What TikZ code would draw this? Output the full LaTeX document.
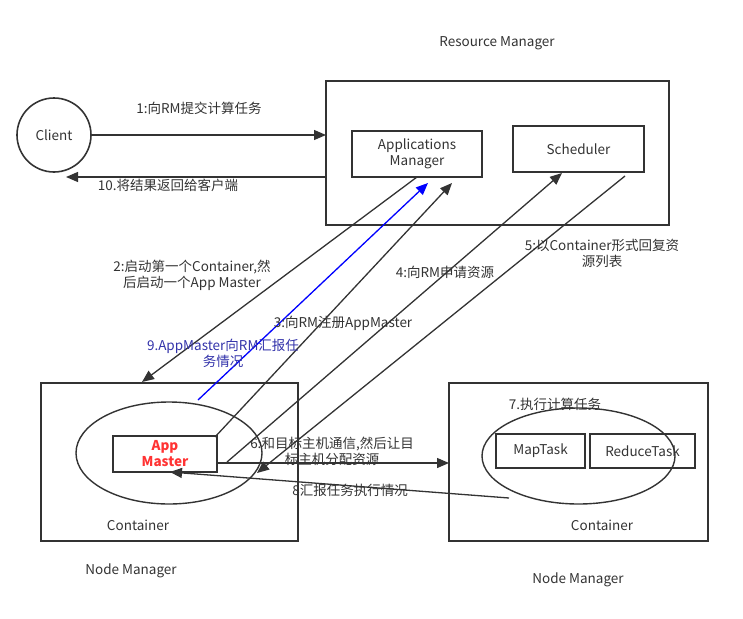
\documentclass[tikz,border=0pt]{standalone}
\usepackage{fontspec}
\setmainfont{Noto Sans CJK SC}
\usetikzlibrary{arrows.meta,shapes.geometric}
\definecolor{ink}{RGB}{51,51,51}
\definecolor{bluetxt}{RGB}{50,50,170}
\definecolor{amred}{RGB}{255,51,51}
\begin{document}
\begin{tikzpicture}[x=1pt,y=-1pt,
  font=\fontsize{13.5}{16}\selectfont,
  every node/.style={text=ink,outer sep=0pt,inner sep=0pt},
  box/.style={draw=ink,line width=1.5pt,rectangle},
  ell/.style={draw=ink,line width=1.4pt,ellipse},
  arr/.style={draw=ink,line width=1.3pt,-{Triangle[length=12pt,width=10pt]}},
  barr/.style={draw=blue,line width=1.3pt,-{Triangle[length=12pt,width=10pt]}},
  lbl/.style={align=center,font=\fontsize{13.5}{16}\selectfont}]
\useasboundingbox (0,0) rectangle (743,618);
% Resource Manager
\node[lbl] (rmlbl) at (497,43) {Resource Manager};
\node[box,minimum width=343pt,minimum height=144pt] (RM) at (497.5,153) {};
\node[box,minimum width=130pt,minimum height=46pt,align=center,font=\fontsize{13.5}{16}\selectfont] (AM) at (417,154) {Applications\\Manager};
\node[box,minimum width=131pt,minimum height=46pt] (SC) at (578.5,149) {Scheduler};
% Client
\node[draw=ink,line width=1.6pt,circle,minimum size=74pt] (CL) at (54,135) {Client};
% Left node manager
\node[box,minimum width=257pt,minimum height=158pt] (LNM) at (169.5,462) {};
\node[ell,minimum width=186pt,minimum height=102pt] (LE) at (169,453) {};
\node[box,minimum width=104pt,minimum height=36pt,align=center,text=amred,font=\fontsize{13.5}{16}\selectfont\bfseries] (APM) at (165,454) {App\\Master};
\node[lbl] (lct) at (138,525) {Container};
\node[lbl] (lnml) at (131,571) {Node Manager};
% Right node manager
\node[box,minimum width=259pt,minimum height=158pt] (RNM) at (578.5,462) {};
\node[ell,minimum width=193pt,minimum height=96pt] (RE) at (578.5,456) {};
\node[box,minimum width=89pt,minimum height=34pt] (MT) at (540.5,451) {MapTask};
\node[box,minimum width=105pt,minimum height=34pt] (RT) at (642.5,451) {ReduceTask};
\node[lbl] (l7) at (555,404) {7.执行计算任务};
\node[lbl] (rct) at (602,525) {Container};
\node[lbl] (rnml) at (578,580) {Node Manager};
% coordinates
\coordinate (c10) at (66,177);
\coordinate (c2e) at (142,382);
\coordinate (c9s) at (198,400);
\coordinate (c9e) at (428,183);
\coordinate (c3s) at (215,437);
\coordinate (c3e) at (452,183);
\coordinate (c4s) at (227,462);
\coordinate (c4e) at (562,173);
\coordinate (c5s) at (625,176);
\coordinate (c5e) at (257,473);
\coordinate (c6y) at (0,463);
\coordinate (c8s) at (509,498);
\coordinate (c8e) at (170,472);
% arrows
\draw[arr] (CL.east) -- (CL.east -| RM.west);
\draw[arr] (c10 -| RM.west) -- (c10);
\draw[arr] (AM.south) -- (c2e);
\draw[barr] (c9s) -- (c9e);
\draw[arr] (c3s) -- (c3e);
\draw[arr] (c4s) -- (c4e);
\draw[arr] (c5s) -- (c5e);
\draw[arr] (APM.east |- c6y) -- (RNM.west |- c6y);
\draw[arr] (c8s) -- (c8e);
% labels
\node[lbl] (l1) at (199,108) {1:向RM提交计算任务};
\node[lbl] (l10) at (168,185) {10.将结果返回给客户端};
\node[lbl] (l2) at (192,275) {2:启动第一个Container,然\\后启动一个App Master};
\node[lbl,text=bluetxt] (l9) at (223,353) {9.AppMaster向RM汇报任\\务情况};
\node[lbl] (l3) at (343,323) {3:向RM注册AppMaster};
\node[lbl] (l4) at (445,272) {4:向RM申请资源};
\node[lbl] (l5) at (602,253) {5:以Container形式回复资\\源列表};
\node[lbl] (l6) at (332,451) {6:和目标主机通信,然后让目\\标主机分配资源};
\node[lbl] (l8) at (350,490) {8汇报任务执行情况};
\end{tikzpicture}
\end{document}
